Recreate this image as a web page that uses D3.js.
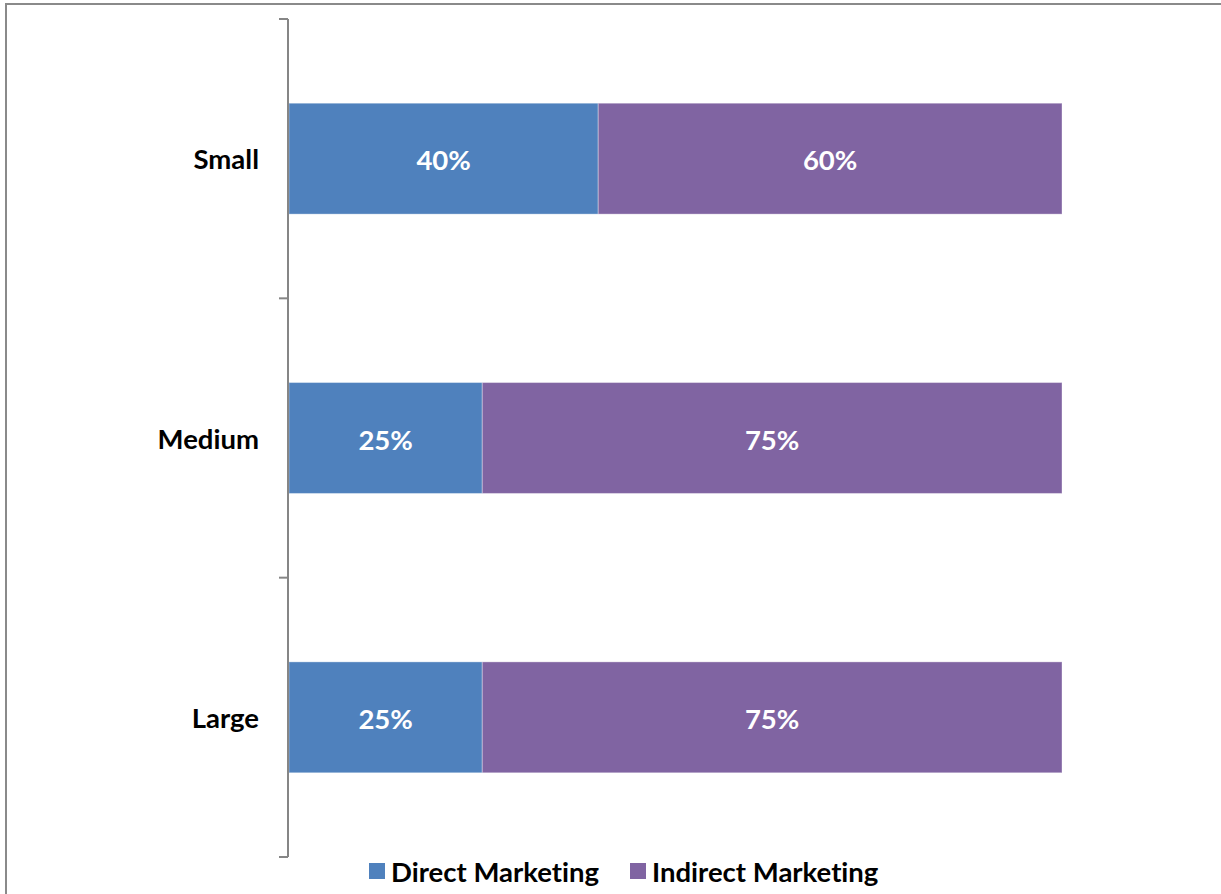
<!DOCTYPE html>
<html>
<head>
<meta charset="utf-8">
<script src="https://cdn.jsdelivr.net/npm/d3@7"></script>
<style>
  html, body { margin: 0; padding: 0; background: #fff; }
  svg { display: block; font-family: Lato, "Open Sans", sans-serif; font-variant-ligatures: none; }
</style>
</head>
<body>
<svg id="chart" width="1221" height="894"></svg>
<script>
// Company size categories and marketing channel shares (percent)
const categories = ["Small", "Medium", "Large"];
const directMarketing = [40, 25, 25];
const indirectMarketing = [60, 75, 75];
const seriesNames = ["Direct Marketing", "Indirect Marketing"];
const seriesColors = ["#4F81BD", "#8064A2"];

const svg = d3.select("#chart");

// Outer chart frame (continues past the right and bottom edges)
svg.append("rect")
  .attr("x", 6).attr("y", 4)
  .attr("width", 1300).attr("height", 1000)
  .attr("fill", "none")
  .attr("stroke", "#8a8a8a")
  .attr("stroke-width", 2);

const plotTop = 19, plotBottom = 857;
const axisX = 288;

const y = d3.scaleBand()
  .domain(categories)
  .range([plotTop, plotBottom])
  .paddingInner(0.603)
  .paddingOuter(0.3015);

const x = d3.scaleLinear().domain([0, 100]).range([axisX + 1, 1062]);

const rows = categories.map((c, i) => ({
  category: c,
  values: [directMarketing[i], indirectMarketing[i]]
}));

const stacked = d3.stack()
  .keys([0, 1])
  .value((d, k) => d.values[k])(rows);

const layers = svg.append("g").selectAll("g")
  .data(stacked)
  .join("g")
  .attr("fill", (d, i) => seriesColors[i]);

layers.selectAll("rect")
  .data(d => d)
  .join("rect")
  .attr("x", d => x(d[0]))
  .attr("y", d => y(d.data.category))
  .attr("width", d => x(d[1]) - x(d[0]))
  .attr("height", y.bandwidth())
  .attr("stroke", "rgba(255,255,255,0.35)")
  .attr("stroke-width", 1);

// Value labels centred in each segment
layers.selectAll("text")
  .data(d => d)
  .join("text")
  .attr("x", d => (x(d[0]) + x(d[1])) / 2)
  .attr("y", d => y(d.data.category) + y.bandwidth() / 2 + 1)
  .attr("text-anchor", "middle")
  .attr("dominant-baseline", "central")
  .attr("fill", "#fff")
  .attr("font-weight", "bold")
  .attr("font-size", 27.5)
  .text(d => (d[1] - d[0]) + "%");

// Category axis: line with tick marks between categories
const axis = svg.append("g").attr("stroke", "#868686").attr("stroke-width", 2);
axis.append("line")
  .attr("x1", axisX).attr("x2", axisX)
  .attr("y1", plotTop).attr("y2", plotBottom);
const boundaries = d3.range(categories.length + 1).map(i => plotTop + i * y.step());
axis.selectAll("line.tick")
  .data(boundaries)
  .join("line")
  .attr("class", "tick")
  .attr("x1", axisX - 9).attr("x2", axisX)
  .attr("y1", d => d).attr("y2", d => d);

svg.append("g").selectAll("text")
  .data(categories)
  .join("text")
  .attr("x", 259)
  .attr("y", d => y(d) + y.bandwidth() / 2)
  .attr("text-anchor", "end")
  .attr("dominant-baseline", "central")
  .attr("font-weight", "bold")
  .attr("font-size", 27.5)
  .attr("fill", "#000")
  .text(d => d);

// Legend
const legendItems = [
  { name: seriesNames[0], color: seriesColors[0], x: 369 },
  { name: seriesNames[1], color: seriesColors[1], x: 630 }
];
const legend = svg.append("g").selectAll("g")
  .data(legendItems)
  .join("g")
  .attr("transform", d => `translate(${d.x},863)`);
legend.append("rect")
  .attr("width", 16).attr("height", 16)
  .attr("fill", d => d.color);
legend.append("text")
  .attr("x", 22).attr("y", 8)
  .attr("dominant-baseline", "central")
  .attr("font-weight", "bold")
  .attr("font-size", 27.5)
  .attr("fill", "#000")
  .text(d => d.name);
</script>
</body>
</html>
